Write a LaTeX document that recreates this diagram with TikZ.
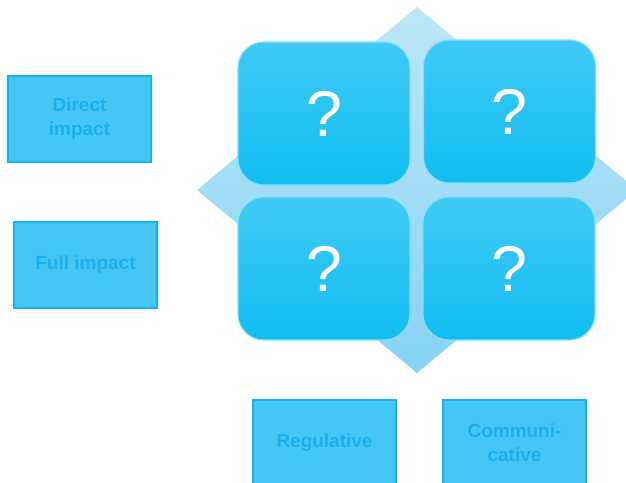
\documentclass[tikz,border=0pt]{standalone}
\usepackage{fontspec}
\setmainfont{Liberation Sans}
\usetikzlibrary{calc}

\definecolor{boxfill}{HTML}{45C7F6}
\definecolor{boxline}{HTML}{12B3EE}
\definecolor{boxtext}{HTML}{1AB0EC}
\definecolor{quadtop}{HTML}{40CAF6}
\definecolor{quadbot}{HTML}{10BEF1}
\definecolor{quadrim}{HTML}{8ADDF8}
\definecolor{diatop}{HTML}{BDE6F8}
\definecolor{diabot}{HTML}{86D4F5}

\tikzset{
  labelbox/.style={draw=boxline, line width=1pt, fill=boxfill,
    minimum width=3.575cm, minimum height=2.15cm, align=center,
    text=boxtext, font=\fontsize{13.5}{17}\selectfont\bfseries},
  quad/.style={draw=quadrim, line width=0.8pt, rounded corners=0.65cm,
    top color=quadtop, bottom color=quadbot,
    minimum width=4.3cm, minimum height=3.575cm,
    text=white, font=\fontsize{46}{50}\selectfont}
}

\begin{document}
\begin{tikzpicture}[x=0.025cm,y=0.025cm]
    \useasboundingbox (0,0) rectangle (626,482);
    % background diamond
    \coordinate (D0) at (417,475);
    \coordinate (D1) at (637,292);
    \coordinate (D2) at (417,109);
    \coordinate (D3) at (197,292);
      \shade [top color=diatop, bottom color=diabot]
        (D0) -- (D1) -- (D2) -- (D3) -- cycle;
    % four quadrants
      \node [quad] (q1) at (324,368.5) {?};
      \node [quad] (q2) at (509.5,370.5) {?};
      \node [quad] (q3) at (324,213.5) {?};
      \node [quad] (q4) at (509,213.5) {?};
    % side labels
      \node [labelbox] (direct) at (79.5,363) {Direct\\impact};
      \node [labelbox] (full) at (85.5,217) {Full impact};
    % bottom labels
      \node [labelbox] (regul) at (324.5,39) {Regulative};
      \node [labelbox] (commun) at (514.5,39) {Communi-\\cative};
  \end{tikzpicture}
\end{document}
